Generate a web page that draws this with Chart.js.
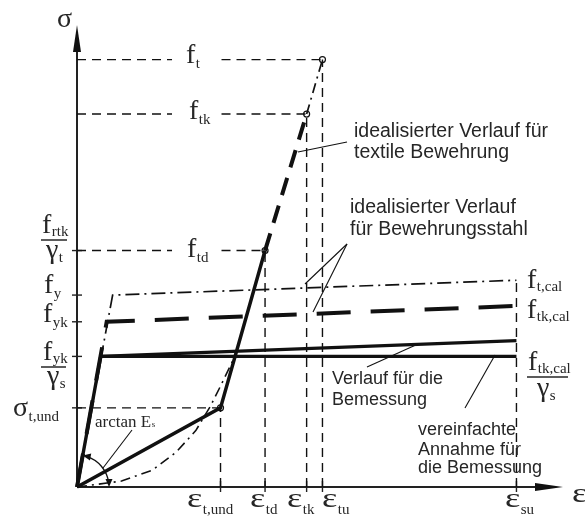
<!DOCTYPE html>
<html>
<head>
<meta charset="utf-8">
<script src="https://cdn.jsdelivr.net/npm/chart.js@4.4.1/dist/chart.umd.min.js"></script>
<style>
  html, body { margin: 0; padding: 0; background: #fff; }
  #wrap { width: 585px; height: 522px; }
</style>
</head>
<body>
<div id="wrap"><canvas id="c" width="585" height="522"></canvas></div>
<script>
// Strain marks on the ε axis (plot units)
const strainSubs = ['t,und', 'td', 'tk', 'tu', 'su'];
const strainVals = [145, 190, 232, 248, 444];

// Stress levels on the σ axis (plot units)
const sigmaTund = 80;
const fTd = 239;
const fTk = 377;
const fT = 432;
const fYkDesign = 132;   // f_yk / γ_s
const fYk = 167;
const fY = 194;
const fTkCalDesign = 148; // f_tk,cal / γ_s level at ε_su
const fTkCal = 183;
const fTCal = 209;

// Reinforcing steel curves
const steelDesignFlat = [[0, 0], [24, fYkDesign], [444, fYkDesign]];
const steelDesignSloped = [[24, fYkDesign], [444, fTkCalDesign]];
const steelIdealDashed = [[0, 0], [30, fYk], [444, fTkCal]];
const steelIdealDashDot = [[0, 0], [36, fY], [444, fTCal]];

// Textile reinforcement curves
const textileDesign = [[0, 0], [145, sigmaTund], [190, fTd]];
const textileIdeal = [[190, fTd], [232, fTk]];
const textileIdealTop = [[232, fTk], [248, fT]];
const textileCurve = [[0, 0], [45, 6], [76, 17], [100, 35], [120, 57], [135, 82], [146, 104], [160, 133]];
const textilePoints = [[145, sigmaTund], [190, fTd], [232, fTk], [248, fT]];

const INK = '#111';
const TXT = '#262626';
const SERIF = '"Liberation Serif", "Times New Roman", serif';
const SANS = '"Liberation Sans", Arial, sans-serif';

const pts = a => a.map(p => ({ x: p[0], y: p[1] }));

function line(data, width, dash) {
  return {
    data: pts(data), showLine: true, borderColor: INK, borderWidth: width,
    borderDash: dash || [], pointRadius: 0, fill: false, clip: false, tension: 0
  };
}

// thin dashed guide lines (with a gap where a label sits)
const guides = [];
const guideDash = [9, 6];
const labelGap = [96, 146];
guides.push(line([[0, sigmaTund], [strainVals[0], sigmaTund]], 1.4, guideDash));
[[fTd, strainVals[1]], [fTk, strainVals[2]], [fT, strainVals[3]]].forEach(([lv, xe]) => {
  guides.push(line([[0, lv], [labelGap[0], lv]], 1.4, guideDash));
  guides.push(line([[labelGap[1], lv], [xe, lv]], 1.4, guideDash));
});
const strainTops = [sigmaTund, fTd, fTk, fT, fTCal];
strainVals.forEach((v, i) => guides.push(line([[v, 0], [v, strainTops[i]]], 1.4, guideDash)));

const datasets = [
  ...guides,
  line(textileCurve, 1.6, [10, 5, 2, 5]),
  line(steelIdealDashDot, 1.7, [14, 5, 2, 5]),
  line(steelIdealDashed, 4, [34, 20]),
  line(steelDesignFlat, 3.4),
  line(steelDesignSloped, 3.4),
  line(textileDesign, 3.5),
  line(textileIdeal, 4, [18, 11]),
  line(textileIdealTop, 1.7, [10, 5, 2, 5]),
  {
    data: pts(textilePoints), showLine: false, pointRadius: 3, pointBorderWidth: 1.2,
    pointBackgroundColor: '#fff', pointBorderColor: INK, clip: false
  }
];

function sym(ctx, x, y, main, sub, size, subSize, opts) {
  opts = opts || {};
  ctx.save();
  ctx.fillStyle = TXT;
  ctx.textBaseline = 'alphabetic';
  ctx.textAlign = 'left';
  ctx.font = size + 'px ' + SERIF;
  const sx = opts.sx || 1;
  ctx.save();
  ctx.translate(x, y);
  ctx.scale(sx, 1);
  ctx.fillText(main, 0, 0);
  ctx.restore();
  const w = ctx.measureText(main).width * sx;
  if (sub) {
    ctx.font = subSize + 'px ' + SERIF;
    ctx.fillText(sub, x + w + (opts.subDx || 0.5), y + (opts.subDy || 5));
  }
  ctx.restore();
}

function seg(ctx, x1, y1, x2, y2, w) {
  ctx.beginPath();
  ctx.moveTo(x1, y1);
  ctx.lineTo(x2, y2);
  ctx.lineWidth = w;
  ctx.stroke();
}

function arrowHead(ctx, tx, ty, ang, len, half) {
  ctx.save();
  ctx.translate(tx, ty);
  ctx.rotate(ang);
  ctx.beginPath();
  ctx.moveTo(0, 0);
  ctx.lineTo(-len, -half);
  ctx.lineTo(-len, half);
  ctx.closePath();
  ctx.fill();
  ctx.restore();
}

const decor = {
  id: 'decor',
  beforeDatasetsDraw(chart) {
    const ctx = chart.ctx;
    const X = v => chart.scales.x.getPixelForValue(v);
    const Y = v => chart.scales.y.getPixelForValue(v);
    ctx.save();
    ctx.strokeStyle = '#222';
    ctx.fillStyle = '#111';
    // axes
    seg(ctx, X(0), Y(0), X(0), Y(445), 2);
    seg(ctx, X(0), Y(0), X(470), Y(0), 2);
    arrowHead(ctx, X(0), Y(467), -Math.PI / 2, 27, 4);
    arrowHead(ctx, X(491), Y(0), 0, 28, 4);
    // ticks
    strainVals.forEach(v => seg(ctx, X(v), Y(0) - 6, X(v), Y(0) + 5, 1.4));
    [fTd, fY, fYk, fYkDesign, sigmaTund].forEach(v => seg(ctx, X(0) - 5, Y(v), X(0) + 5, Y(v), 1.4));
    ctx.restore();
  },
  afterDatasetsDraw(chart) {
    const ctx = chart.ctx;
    const X = v => chart.scales.x.getPixelForValue(v);
    const Y = v => chart.scales.y.getPixelForValue(v);
    const S = 28, s = 15;
    ctx.save();

    // axis names
    sym(ctx, 57, 27, 'σ', '', S, s);
    sym(ctx, 572, 502, 'ε', '', S, s, { sx: 1.3 });

    // strain labels
    const epsLeft = [187, 250, 287, 322, 505];
    strainSubs.forEach((sb, i) => sym(ctx, epsLeft[i], 507, 'ε', sb, S, s, { sx: 1.3, subDy: 7 }));

    // labels on the guide lines
    sym(ctx, 186, 63, 'f', 't', S, s);
    sym(ctx, 189, 119, 'f', 'tk', S, s);
    sym(ctx, 187, 257, 'f', 'td', S, s);

    // left stress labels
    ctx.strokeStyle = TXT;
    sym(ctx, 42, 233, 'f', 'rtk', S, s, { subDy: 3 });
    seg(ctx, 41, 240, 67, 240, 1.5);
    sym(ctx, 46, 258, 'γ', 't', S, s, { subDy: 4 });
    sym(ctx, 44, 293, 'f', 'y', S, s);
    sym(ctx, 43, 322, 'f', 'yk', S, s);
    sym(ctx, 43, 360, 'f', 'yk', S, s, { subDy: 3 });
    seg(ctx, 41, 367, 66, 367, 1.5);
    sym(ctx, 47, 384, 'γ', 's', S, s, { subDy: 4 });
    sym(ctx, 13, 416, 'σ', 't,und', S, s, { subDy: 5 });

    // right stress labels
    sym(ctx, 527, 288, 'f', 't,cal', S, s, { subDy: 3 });
    sym(ctx, 527, 318, 'f', 'tk,cal', S, s, { subDy: 3 });
    sym(ctx, 528, 370, 'f', 'tk,cal', S, s, { subDy: 3 });
    seg(ctx, 527, 377, 568, 377, 1.5);
    sym(ctx, 537, 396, 'γ', 's', S, s, { subDy: 4 });

    // E_s angle
    ctx.strokeStyle = INK;
    ctx.fillStyle = INK;
    const ox = X(0), oy = Y(0), r = 32;
    const aTop = Math.atan2(fYkDesign, 24);
    ctx.beginPath();
    ctx.arc(ox, oy, r, -aTop + 0.12, -0.12);
    ctx.lineWidth = 1.3;
    ctx.stroke();
    arrowHead(ctx, ox + r * Math.cos(aTop), oy - r * Math.sin(aTop), -aTop - Math.PI / 2, 8, 3.5);
    arrowHead(ctx, ox + r, oy, Math.PI / 2, 8, 3.5);
    seg(ctx, 132, 430, 103, 468, 1.1);
    ctx.fillStyle = TXT;
    ctx.font = '17px ' + SERIF;
    ctx.fillText('arctan E', 95, 427);
    const wA = ctx.measureText('arctan E').width;
    ctx.font = '9px ' + SERIF;
    ctx.fillText('s', 95 + wA + 0.5, 427);

    // annotations
    ctx.fillStyle = TXT;
    ctx.font = '19.5px ' + SANS;
    ctx.fillText('idealisierter Verlauf für', 354, 137);
    ctx.fillText('textile Bewehrung', 354, 158);
    ctx.fillText('idealisierter Verlauf', 350, 213);
    ctx.fillText('für Bewehrungsstahl', 350, 235);
    ctx.font = '18px ' + SANS;
    ctx.fillText('Verlauf für die', 332, 384);
    ctx.fillText('Bemessung', 332, 405);
    ctx.fillText('vereinfachte', 418, 435);
    ctx.fillText('Annahme für', 418, 455);
    ctx.fillText('die Bemessung', 418, 473);

    ctx.strokeStyle = INK;
    seg(ctx, 347, 142, 298, 152, 1.1);
    seg(ctx, 347, 244, 305, 284, 1.1);
    seg(ctx, 347, 244, 313, 312, 1.1);
    seg(ctx, 367, 367, 418, 344, 1.1);
    seg(ctx, 465, 408, 495, 355, 1.1);
    ctx.restore();
  }
};

new Chart(document.getElementById('c'), {
  type: 'scatter',
  data: { datasets },
  options: {
    responsive: false,
    animation: false,
    devicePixelRatio: 1,
    layout: { padding: { left: 77, right: 0, top: 0, bottom: 35 } },
    plugins: { legend: { display: false }, tooltip: { enabled: false } },
    scales: {
      x: { type: 'linear', min: 0, max: 508, display: false },
      y: { type: 'linear', min: 0, max: 487, display: false }
    }
  },
  plugins: [decor]
});
</script>
</body>
</html>
